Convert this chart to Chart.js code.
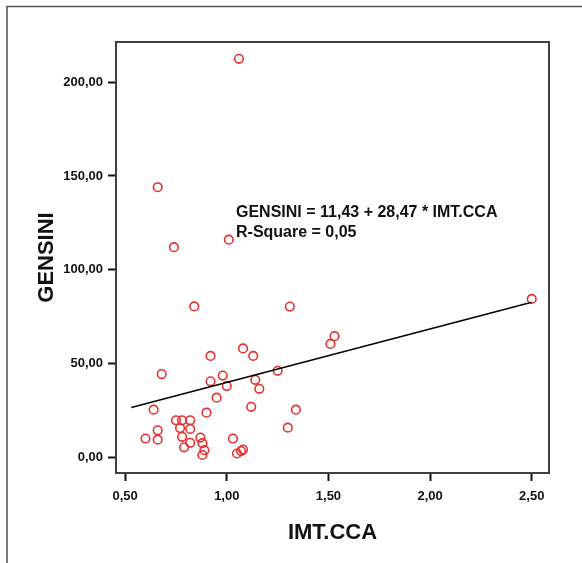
<!DOCTYPE html>
<html>
<head>
<meta charset="utf-8">
<script src="https://cdn.jsdelivr.net/npm/chart.js@4.4.1/dist/chart.umd.min.js"></script>
<style>
  html, body { margin: 0; padding: 0; background: #fff; }
  canvas { display: block; }
</style>
</head>
<body>
<canvas id="chart" width="582" height="563"></canvas>
<script>
// IMT.CCA vs GENSINI
const imtCca = [1.06, 0.66, 0.74, 1.01, 0.84, 1.31, 2.50, 1.53, 1.51, 1.08,
                0.92, 1.13, 0.68, 1.25, 0.98, 0.92, 1.14, 1.00, 1.16, 0.95,
                1.12, 0.64, 1.34, 0.90, 0.75, 0.78, 0.82, 0.77, 0.82, 1.30,
                0.66, 0.78, 0.60, 0.66, 1.03, 0.87, 0.88, 0.82, 0.79, 0.89,
                0.88, 1.05, 1.07, 1.08];
const gensini = [212.5, 144.0, 112.0, 116.0, 80.4, 80.3, 84.4, 64.5, 60.4, 58.0,
                 54.0, 54.0, 44.3, 46.0, 43.5, 40.4, 41.2, 37.9, 36.4, 31.7,
                 26.8, 25.3, 25.3, 23.7, 19.6, 19.6, 19.6, 15.5, 15.0, 15.7,
                 14.3, 10.8, 9.9, 9.3, 9.9, 10.4, 7.4, 7.6, 5.2, 3.7,
                 1.1, 1.9, 3.2, 4.0];

// fit line end points (GENSINI = 11,43 + 28,47 * IMT.CCA)
const fitX = [0.53, 2.50];
const fitY = [26.5, 82.6];

const xTicks = [0.5, 1.0, 1.5, 2.0, 2.5];
const xTickLabels = ['0,50', '1,00', '1,50', '2,00', '2,50'];
const yTicks = [0, 50, 100, 150, 200];
const yTickLabels = ['0,00', '50,00', '100,00', '150,00', '200,00'];

const eqLines = ['GENSINI = 11,43 + 28,47 * IMT.CCA', 'R-Square = 0,05'];

const FONT = '"Liberation Sans", Arial, sans-serif';

const points = imtCca.map((x, i) => ({ x, y: gensini[i] }));
const fitLine = fitX.map((x, i) => ({ x, y: fitY[i] }));

const frame = {
  id: 'frame',
  beforeDraw(chart) {
    const c = chart.ctx;
    c.save();
    c.strokeStyle = '#505050';
    c.lineWidth = 1.5;
    c.beginPath();
    c.moveTo(582, 6.5);
    c.lineTo(7, 6.5);
    c.lineTo(7, 563);
    c.stroke();
    c.restore();
  },
  afterDatasetsDraw(chart) {
    const a = chart.chartArea;
    const c = chart.ctx;
    c.save();
    c.strokeStyle = '#404040';
    c.lineWidth = 2;
    c.strokeRect(a.left, a.top, a.right - a.left, a.bottom - a.top);
    // equation text
    c.fillStyle = '#111';
    c.font = 'bold 16px ' + FONT;
    c.textBaseline = 'middle';
    c.textAlign = 'left';
    c.fillText(eqLines[0], 236, 213);
    c.fillText(eqLines[1], 236, 233);
    c.restore();
  }
};

new Chart(document.getElementById('chart'), {
  data: {
    datasets: [{
      type: 'scatter',
      data: points,
      pointStyle: 'circle',
      pointRadius: 4.3,
      pointBorderWidth: 1.6,
      pointBackgroundColor: 'rgba(0,0,0,0)',
      pointBorderColor: '#e83030',
      order: 2
    }, {
      type: 'line',
      data: fitLine,
      borderColor: '#000',
      borderWidth: 1.5,
      pointRadius: 0,
      fill: false,
      order: 1
    }]
  },
  options: {
    responsive: false,
    animation: false,
    layout: { padding: { left: 0, top: 42, right: 33, bottom: 0 } },
    plugins: { legend: { display: false }, tooltip: { enabled: false } },
    scales: {
      x: {
        type: 'linear',
        min: 0.455,
        max: 2.585,
        afterFit(s) { s.height = 90; },
        afterBuildTicks(s) { s.ticks = xTicks.map(v => ({ value: v })); },
        border: { display: false },
        grid: { drawOnChartArea: false, drawTicks: true, tickLength: 8, tickWidth: 2, tickColor: '#111' },
        ticks: {
          color: '#111',
          padding: 8,
          maxRotation: 0,
          font: { family: FONT, size: 13, weight: 'bold' },
          callback: (v) => xTickLabels[xTicks.indexOf(v)]
        },
        title: {
          display: true,
          text: 'IMT.CCA',
          color: '#111',
          padding: { top: 0, bottom: 17 },
          font: { family: FONT, size: 22, weight: 'bold' }
        }
      },
      y: {
        type: 'linear',
        min: -8.5,
        max: 221.5,
        afterFit(s) { s.width = 116; },
        afterBuildTicks(s) { s.ticks = yTicks.map(v => ({ value: v })); },
        border: { display: false },
        grid: { drawOnChartArea: false, drawTicks: true, tickLength: 8, tickWidth: 2, tickColor: '#111' },
        ticks: {
          color: '#111',
          padding: 5,
          font: { family: FONT, size: 13, weight: 'bold' },
          callback: (v) => yTickLabels[yTicks.indexOf(v)]
        },
        title: {
          display: true,
          text: 'GENSINI',
          color: '#111',
          padding: { top: 34, bottom: 0 },
          font: { family: FONT, size: 22, weight: 'bold' }
        }
      }
    }
  },
  plugins: [frame]
});
</script>
</body>
</html>
